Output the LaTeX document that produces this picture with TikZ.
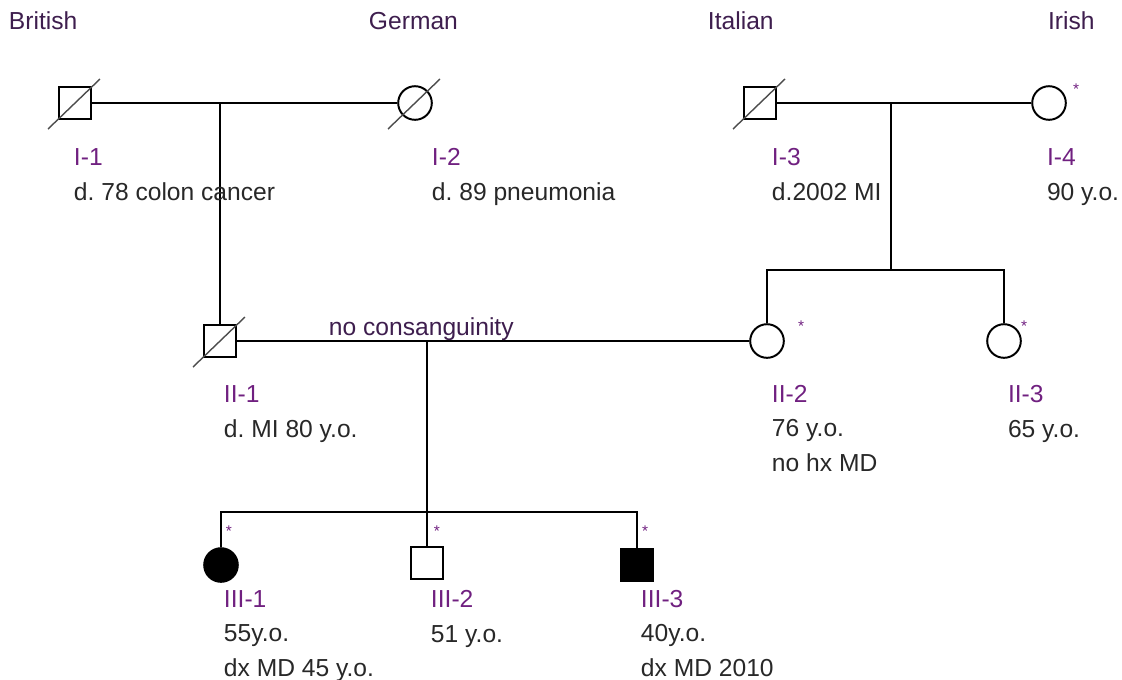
\documentclass[tikz,border=0pt]{standalone}
\usepackage{fontspec}
\setmainfont{Liberation Sans}
\usepackage{xcolor}
\usetikzlibrary{positioning}
\frenchspacing

\definecolor{idpurple}{RGB}{112,32,128}
\definecolor{notegray}{RGB}{40,40,40}
\definecolor{headpurple}{RGB}{62,30,78}

\begin{document}
\begin{tikzpicture}[x=0.025cm, y=-0.025cm, line width=1.4pt,
    male/.style={draw, rectangle, minimum size=0.82cm, inner sep=0pt},
    female/.style={draw, circle, minimum size=0.84cm, inner sep=0pt},
    affected/.style={fill=black},
    info/.style={anchor=base west, inner sep=0pt, align=left, text=notegray,
      font=\fontsize{17.5}{24.2}\selectfont},
    origin/.style={anchor=base west, inner sep=0pt, text=headpurple,
      font=\fontsize{17.5}{21}\selectfont},
    tested/.style={anchor=base, inner sep=0pt, text=idpurple,
      font=\fontsize{11}{13}\selectfont}]
  \useasboundingbox (0,0) rectangle (1122,679);

  % origins
  \node[origin] (british) at (8,29) {British};
  \node[origin] (german) at (368,29) {German};
  \node[origin] (italian) at (707,29) {Italian};
  \node[origin] (irish) at (1047,29) {Irish};

  % generation I
  \node[male] (I1) at (75,103) {};
  \node[female] (I2) at (415,103) {};
  \node[male] (I3) at (760,103) {};
  \node[female] (I4) at (1049,103) {};

  % generation II
  \node[male] (II1) at (220,341) {};
  \node[female] (II2) at (767,341) {};
  \node[female] (II3) at (1004,341) {};

  % generation III
  \node[female, affected] (III1) at (221,565) {};
  \node[male] (III2) at (427,563) {};
  \node[male, affected] (III3) at (637,565) {};

  % deceased
  \foreach \p in {I1,I2,I3,II1}
    \draw[line width=1pt, black!70]
      ([shift={(-27,26)}]\p.center) -- ([shift={(25,-24)}]\p.center);

  % matings and lines of descent
  \draw (I1) -- (I2);
  \draw (II1.north) -- (II1.north |- I1);

  \draw (I3) -- (I4);
  \coordinate (c2) at (891,103);
  \coordinate (s2) at (891,270);
  \draw (c2) -- (s2);
  \draw (II2.north) |- (s2) -| (II3.north);

  \draw (II1) -- (II2);
  \coordinate (c3) at (427,341);
  \coordinate (s3) at (427,512);
  \draw (c3) -- (III2.north);
  \draw (III1.north) |- (s3) -| (III3.north);

  \node[origin] (nocons) at (328,335) {no consanguinity};

  % tested
  \node[tested] (t4) at (1076,94) {*};
  \node[tested] (t22) at (801,331) {*};
  \node[tested] (t23) at (1024,331) {*};
  \node[tested] (t31) at (229,536) {*};
  \node[tested] (t32) at (437,536) {*};
  \node[tested] (t33) at (645,536) {*};

  % notes (placed at the baseline of their last line)
  \node[info] (I1txt) at (73,200) {\textcolor{idpurple}{I-1}\\d. 78 colon cancer};
  \node[info] (I2txt) at (431,200) {\textcolor{idpurple}{I-2}\\d. 89 pneumonia};
  \node[info] (I3txt) at (771,200) {\textcolor{idpurple}{I-3}\\d.2002 MI};
  \node[info] (I4txt) at (1046,200) {\textcolor{idpurple}{I-4}\\90 y.o.};

  \node[info] (II1txt) at (223,437) {\textcolor{idpurple}{II-1}\\d. MI 80 y.o.};
  \node[info] (II2txt) at (771,471) {\textcolor{idpurple}{II-2}\\76 y.o.\\no hx MD};
  \node[info] (II3txt) at (1007,437) {\textcolor{idpurple}{II-3}\\65 y.o.};

  \node[info] (III1txt) at (223,676) {\textcolor{idpurple}{III-1}\\55y.o.\\dx MD 45 y.o.};
  \node[info] (III2txt) at (430,642) {\textcolor{idpurple}{III-2}\\51 y.o.};
  \node[info] (III3txt) at (640,676) {\textcolor{idpurple}{III-3}\\40y.o.\\dx MD 2010};
\end{tikzpicture}
\end{document}
